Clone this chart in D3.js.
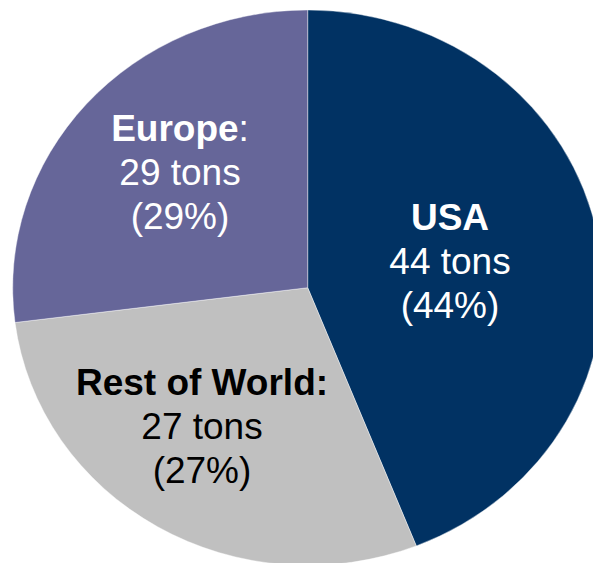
<!DOCTYPE html>
<html>
<head>
<meta charset="utf-8">
<script src="https://cdn.jsdelivr.net/npm/d3@7"></script>
<style>
  html, body { margin: 0; padding: 0; background: #fff; }
  svg { display: block; font-family: "Liberation Sans", Arial, sans-serif; }
</style>
</head>
<body>
<div id="chart"></div>
<script>
// slices in drawing order, clockwise from 12 o'clock
var categories = ["USA", "Rest of World", "Europe"];
// shares as the wedges are drawn in the picture
var sliceShares = [44, 29, 27];
// figures printed in the labels
var labelTons = [44, 27, 29];
var labelPct = [44, 27, 29];
var nameSuffix = ["", ":", ":"];
var suffixBold = [false, true, false];

var colors = ["#013263", "#c0c0c0", "#666699"];
var textColors = ["#ffffff", "#000000", "#ffffff"];

var width = 593, height = 563;
var cx = 307.7, cy = 287.7, rx = 295, ry = 277.7;

// label anchors (x centre, first baseline) per slice
var labelPos = [[450, 230], [202, 395], [180, 141]];
var lineGap = 44;

var svg = d3.select("#chart").append("svg")
    .attr("width", width)
    .attr("height", height);

var pie = d3.pie().sort(null).value(function (d) { return d; });
var arc = d3.arc().innerRadius(0).outerRadius(ry);

var arcs = pie(sliceShares);

var g = svg.append("g")
    .attr("transform", "translate(" + cx + "," + cy + ") scale(" + (rx / ry) + ",1)");

g.selectAll("path")
    .data(arcs)
    .enter().append("path")
    .attr("d", arc)
    .attr("fill", function (d, i) { return colors[i]; })
    .attr("stroke", "#ffffff")
    .attr("stroke-opacity", 0.5)
    .attr("stroke-width", 0.8)
    .attr("vector-effect", "non-scaling-stroke");

var labels = svg.selectAll(".label")
    .data(categories)
    .enter().append("text")
    .attr("class", "label")
    .attr("text-anchor", "middle")
    .attr("font-size", "37px")
    .attr("fill", function (d, i) { return textColors[i]; });

labels.each(function (d, i) {
    var t = d3.select(this);
    var x = labelPos[i][0], y = labelPos[i][1];
    var l1 = t.append("tspan").attr("x", x).attr("y", y);
    l1.append("tspan").attr("font-weight", "bold").text(d);
    if (nameSuffix[i]) {
        l1.append("tspan")
            .attr("font-weight", suffixBold[i] ? "bold" : "normal")
            .text(nameSuffix[i]);
    }
    t.append("tspan").attr("x", x).attr("y", y + lineGap)
        .text(labelTons[i] + " tons");
    t.append("tspan").attr("x", x).attr("y", y + 2 * lineGap)
        .text("(" + labelPct[i] + "%)");
});
</script>
</body>
</html>
